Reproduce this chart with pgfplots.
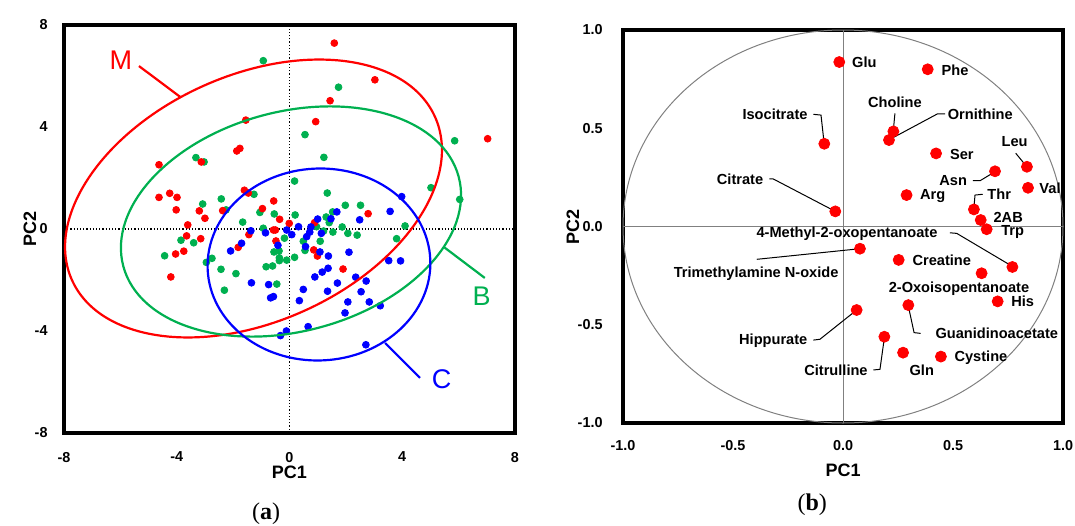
\documentclass[border=0pt]{standalone}
\usepackage{fontspec}
\setmainfont{Liberation Sans}
\newfontfamily\capfont{Liberation Serif}
\usepackage{pgfplots}
\pgfplotsset{compat=1.18}
\definecolor{cR}{RGB}{255,0,0}
\definecolor{cG}{RGB}{0,176,80}
\definecolor{cB}{RGB}{0,0,255}
% color, linewidth, cx, cy, ux, uy, vx, vy  (conjugate semi-axes in data units)
\newcommand{\axisellipse}[8]{%
  \pgfplotsextra{\begin{pgfscope}\pgfsetstrokecolor{#1}\pgfsetlinewidth{#2}%
  \pgfpathellipse{\pgfplotspointaxisxy{#3}{#4}}{\pgfplotspointaxisdirectionxy{#5}{#6}}{\pgfplotspointaxisdirectionxy{#7}{#8}}%
  \pgfusepath{stroke}\end{pgfscope}}}
\pgfplotsset{
  mystyle/.style={scale only axis, anchor=south west, major tick length=0pt,
    axis line style={line width=1.6pt}, clip mode=individual,
    tick label style={font=\bfseries\fontsize{7.2}{8}\selectfont}},
}
\tikzset{lab/.style={font=\bfseries\fontsize{7.3}{8}\selectfont, inner sep=0pt},
  alab/.style={font=\bfseries\fontsize{9}{10}\selectfont}}
\begin{document}
\begin{tikzpicture}
\useasboundingbox (-32pt,-46pt) rectangle (505.5pt,216.5pt);
% ---------------- (a)
\begin{axis}[mystyle, at={(0pt,0pt)}, width=225.5pt, height=204pt,
  xmin=-8, xmax=8, ymin=-8, ymax=8,
  xtick={-8,-4,0,4,8}, xticklabels={-8,-4,0,4,8},
  ytick={-8,-4,0,4,8}, yticklabels={-8,-4,0,4,8},
  xticklabel style={yshift=-6pt}, yticklabel style={xshift=-4.7pt}]
\draw[densely dotted, line width=0.6pt] (axis cs:0,-8) -- (axis cs:0,8);
\draw[densely dotted, line width=0.6pt] (axis cs:-8,0) -- (axis cs:8,0);
\addplot[only marks, mark=*, mark size=1.7pt, color=cG] coordinates {
(-0.93,6.60) (1.74,5.56) (0.55,3.70) (5.86,3.46) (1.22,2.81) (-3.32,2.80) (-3.03,2.63)
(0.18,1.88) (5.02,1.62) (-1.26,1.36) (1.34,1.41) (6.04,1.16) (-2.42,1.18) (-3.08,0.98)
(-2.25,0.75) (-1.05,0.65) (-0.54,0.59) (0.20,0.55) (1.98,0.93) (2.52,0.93) (1.53,0.67)
(1.30,0.47) (1.41,0.25) (-1.66,0.27) (-0.93,0.03) (4.10,0.12) (0.96,0.09) (1.21,-0.08)
(1.54,-0.12) (1.87,0.08) (2.07,-0.17) (2.40,-0.24) (3.80,-0.38) (-0.18,-0.36) (-3.85,-0.44)
(-3.40,-0.54) (0.49,-0.48) (1.09,-0.48) (0.55,-0.84) (-0.55,-0.90) (-0.37,-0.86) (-4.43,-1.05)
(-2.75,-1.15) (-2.95,-1.31) (-0.36,-1.13) (-0.36,-1.24) (-0.10,-1.22) (0.18,-1.11) (-0.83,-1.48)
(-0.60,-1.45) (-2.43,-1.58) (-1.90,-1.75) (-0.45,-2.16) (-2.31,-2.40)
};
\addplot[only marks, mark=*, mark size=1.7pt, color=cR] coordinates {
(1.59,7.29) (3.03,5.85) (1.44,5.03) (0.93,4.21) (7.03,3.54) (-1.55,4.27) (-1.87,3.06)
(-1.76,3.16) (-3.13,2.63) (-4.63,2.52) (-1.60,1.52) (-1.46,1.41) (-4.63,1.24) (-4.25,1.40)
(-3.99,1.24) (-0.56,1.10) (-4.02,0.75) (-3.20,0.71) (-2.37,0.72) (-0.96,0.80) (-3.00,0.42)
(-0.35,0.38) (-3.61,0.16) (-0.01,0.22) (-1.44,-0.22) (-0.57,-0.04) (-0.50,-0.04) (-3.65,-0.27)
(-3.15,-0.38) (-3.75,-0.87) (-4.04,-0.98) (-1.82,-0.72) (-0.48,-0.47) (-4.21,-1.88) (2.79,0.60)
(0.89,0.25) (0.86,-0.82) (0.99,-1.06) (1.90,-1.57)
};
\addplot[only marks, mark=*, mark size=1.7pt, color=cB] coordinates {
(3.98,1.27) (1.68,0.67) (3.57,0.69) (1.47,0.40) (1.00,0.39) (2.49,0.36) (0.32,0.09)
(0.76,0.08) (0.72,-0.12) (0.61,-0.30) (-0.10,-0.04) (0.08,-0.22) (-1.37,-0.07) (-0.85,-0.15)
(1.13,-0.17) (-1.70,-0.56) (-2.09,-0.86) (-0.41,-0.64) (0.57,-0.69) (1.08,-0.90) (1.38,-1.06)
(2.11,-0.91) (3.52,-1.24) (3.94,-1.25) (1.37,-1.54) (1.16,-1.69) (0.90,-1.88) (2.35,-1.89)
(2.72,-2.04) (2.54,-2.46) (1.70,-2.12) (1.35,-2.44) (0.49,-2.37) (0.35,-2.81) (-1.35,-2.11)
(-0.74,-2.18) (-0.67,-2.70) (-0.57,-2.65) (2.07,-2.86) (2.83,-2.86) (3.22,-3.01) (1.97,-3.29)
(0.66,-3.83) (-0.11,-4.00) (-0.32,-4.18) (2.71,-4.54)
};
\axisellipse{cR}{1.1pt}{-1.277}{1.196}{6.44}{3.20}{-1.79}{4.41}
\axisellipse{cG}{1.1pt}{0.053}{0.294}{5.95}{1.75}{-1.00}{4.16}
\axisellipse{cB}{1.1pt}{1.046}{-1.392}{3.95}{0.18}{-0.135}{3.76}
\draw[cR, line width=1.1pt] (axis cs:-5.34,6.39) -- (axis cs:-3.88,5.18);
\draw[cG, line width=1.1pt] (axis cs:5.48,-0.71) -- (axis cs:6.93,-1.92);
\draw[cB, line width=1.1pt] (axis cs:3.39,-4.47) -- (axis cs:4.63,-5.84);
\node[cR, font=\fontsize{13.5}{14}\selectfont] at (axis cs:-5.98,6.63) {M};
\node[cG, font=\fontsize{13.5}{14}\selectfont] at (axis cs:6.82,-2.62) {B};
\node[cB, font=\fontsize{13.5}{14}\selectfont] at (axis cs:5.40,-5.88) {C};
\node[alab] at (axis description cs:0.5,0) [yshift=-19.5pt] {PC1};
\node[alab, rotate=90] at (axis description cs:0,0.5) [yshift=17pt] {PC2};
\node[font=\capfont\fontsize{12}{14}\selectfont] at (axis description cs:0.448,0) [yshift=-40.5pt] {(\textbf{a})};
\end{axis}
% ---------------- (b)
\begin{axis}[mystyle, at={(279.5pt,5pt)}, width=220pt, height=196.5pt,
  xmin=-1, xmax=1, ymin=-1, ymax=1,
  xtick={-1,-0.5,0,0.5,1}, xticklabels={-1.0,-0.5,0.0,0.5,1.0},
  ytick={-1,-0.5,0,0.5,1}, yticklabels={-1.0,-0.5,0.0,0.5,1.0},
  xticklabel style={yshift=-5.2pt}, yticklabel style={xshift=-6.7pt}]
\draw[gray, line width=0.5pt] (axis cs:-1,0) -- (axis cs:1,0);
\draw[gray, line width=0.5pt] (axis cs:0,-1) -- (axis cs:0,1);
\axisellipse{gray}{0.5pt}{0}{0}{1}{0}{0}{1}
% leader lines
\draw[line width=0.5pt] (axis cs:-0.135,0.571) -- (axis cs:-0.100,0.567) -- (axis cs:-0.086,0.426);
\draw[line width=0.5pt] (axis cs:-0.335,0.242) -- (axis cs:-0.317,0.242) -- (axis cs:-0.035,0.077);
\draw[line width=0.5pt] (axis cs:0.236,0.576) -- (axis cs:0.229,0.491);
\draw[line width=0.5pt] (axis cs:0.464,0.573) -- (axis cs:0.429,0.573) -- (axis cs:0.214,0.444);
\draw[line width=0.5pt] (axis cs:0.785,0.373) -- (axis cs:0.832,0.309);
\draw[line width=0.5pt] (axis cs:0.590,0.233) -- (axis cs:0.623,0.233) -- (axis cs:0.688,0.277);
\draw[line width=0.5pt] (axis cs:0.635,0.164) -- (axis cs:0.600,0.160) -- (axis cs:0.595,0.093);
\draw[line width=0.5pt] (axis cs:0.486,-0.032) -- (axis cs:0.517,-0.035) -- (axis cs:0.767,-0.201);
\draw[line width=0.5pt] (axis cs:-0.392,-0.167) -- (axis cs:0.077,-0.113);
\draw[line width=0.5pt] (axis cs:0.353,-0.544) -- (axis cs:0.323,-0.540) -- (axis cs:0.297,-0.405);
\draw[line width=0.5pt] (axis cs:-0.135,-0.578) -- (axis cs:-0.105,-0.574) -- (axis cs:0.062,-0.425);
\draw[line width=0.5pt] (axis cs:0.138,-0.730) -- (axis cs:0.168,-0.727) -- (axis cs:0.188,-0.566);
\addplot[only marks, mark=*, mark size=2.75pt, color=cR] coordinates {
(-0.017,0.837) (0.385,0.800) (-0.085,0.421) (0.229,0.484) (0.209,0.440) (0.423,0.372)
(0.836,0.304) (0.691,0.281) (0.841,0.197) (0.289,0.160) (-0.035,0.077) (0.595,0.087)
(0.626,0.033) (0.653,-0.014) (0.077,-0.113) (0.253,-0.170) (0.630,-0.238) (0.770,-0.206)
(0.703,-0.381) (0.297,-0.400) (0.062,-0.425) (0.188,-0.561) (0.273,-0.642) (0.445,-0.662)
};
\node[lab] at (axis cs:0.097,0.837) {Glu};
\node[lab] at (axis cs:0.509,0.796) {Phe};
\node[lab] at (axis cs:0.236,0.630) {Choline};
\node[lab] at (axis cs:0.624,0.573) {Ornithine};
\node[lab] at (axis cs:-0.309,0.571) {Isocitrate};
\node[lab] at (axis cs:0.540,0.369) {Ser};
\node[lab] at (axis cs:0.780,0.430) {Leu};
\node[lab] at (axis cs:0.501,0.233) {Asn};
\node[lab] at (axis cs:0.941,0.194) {Val};
\node[lab] at (axis cs:0.408,0.157) {Arg};
\node[lab] at (axis cs:-0.468,0.242) {Citrate};
\node[lab] at (axis cs:0.710,0.164) {Thr};
\node[lab] at (axis cs:0.751,0.046) {2AB};
\node[lab] at (axis cs:0.771,-0.028) {Trp};
\node[lab] at (axis cs:0.018,-0.038) {4-Methyl-2-oxopentanoate};
\node[lab] at (axis cs:-0.395,-0.238) {Trimethylamine N-oxide};
\node[lab] at (axis cs:0.449,-0.170) {Creatine};
\node[lab] at (axis cs:0.527,-0.315) {2-Oxoisopentanoate};
\node[lab] at (axis cs:0.817,-0.383) {His};
\node[lab] at (axis cs:0.699,-0.544) {Guanidinoacetate};
\node[lab] at (axis cs:-0.317,-0.583) {Hippurate};
\node[lab] at (axis cs:-0.032,-0.730) {Citrulline};
\node[lab] at (axis cs:0.358,-0.730) {Gln};
\node[lab] at (axis cs:0.627,-0.668) {Cystine};
\node[alab] at (axis description cs:0.5,0) [yshift=-23.5pt] {PC1};
\node[alab, rotate=90] at (axis description cs:0,0.5) [yshift=25pt] {PC2};
\node[font=\capfont\fontsize{12}{14}\selectfont] at (axis description cs:0.43,0) [yshift=-41pt] {(\textbf{b})};
\end{axis}
\end{tikzpicture}
\end{document}
